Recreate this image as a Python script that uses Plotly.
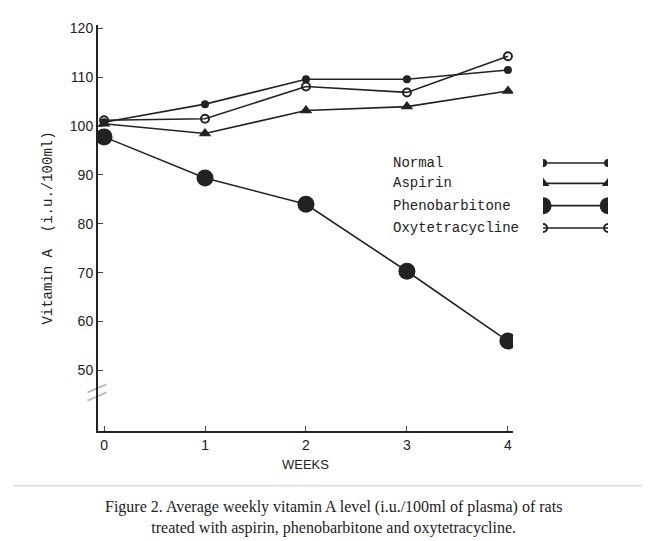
import plotly.graph_objects as go

weeks = [0, 1, 2, 3, 4]
normal = [100.8, 104.5, 109.6, 109.6, 111.5]
aspirin = [100.5, 98.5, 103.2, 104.0, 107.2]
phenobarbitone = [97.8, 89.4, 84.0, 70.3, 56.0]
oxytetracycline = [101.2, 101.5, 108.1, 106.9, 114.3]
y_ticks = [50, 60, 70, 80, 90, 100, 110, 120]
legend_names = ["Normal", "Aspirin", "Phenobarbitone", "Oxytetracycline"]

styles = {
    "Normal": dict(symbol="circle", size=8, color="#222"),
    "Aspirin": dict(symbol="triangle-up", size=11, color="#222"),
    "Phenobarbitone": dict(symbol="circle", size=17, color="#222"),
    "Oxytetracycline": dict(symbol="circle-open", size=8, color="#222", line=dict(width=2)),
}
series = {"Normal": normal, "Aspirin": aspirin, "Phenobarbitone": phenobarbitone,
          "Oxytetracycline": oxytetracycline}

fig = go.Figure()
for name, vals in series.items():
    fig.add_trace(go.Scatter(x=weeks, y=vals, mode="lines+markers", name=name,
                             line=dict(color="#222", width=1.6), marker=styles[name]))

# hand-drawn style legend on an overlay axis
legend_y = [0.66, 0.61, 0.555, 0.50]
for name, ly in zip(legend_names, legend_y):
    fig.add_trace(go.Scatter(x=[0.0, 1.0], y=[ly, ly], xaxis="x2", yaxis="y2", mode="lines+markers",
                             line=dict(color="#222", width=1.6), marker=styles[name], showlegend=False))
    fig.add_annotation(x=0.563, y=ly, xref="paper", yref="paper", text=name, showarrow=False,
                       xanchor="left", font=dict(family="Liberation Mono", size=14, color="#222"))

fig.update_layout(
    width=650, height=541, template="simple_white", showlegend=False,
    paper_bgcolor="white", plot_bgcolor="white",
    margin=dict(l=90, r=40, t=12, b=118),
    xaxis=dict(domain=[0, 0.798], range=[-0.06, 4.05], tickvals=weeks, ticks="inside", ticklen=5,
               showline=True, linecolor="#222", linewidth=2,
               tickfont=dict(family="Liberation Sans", size=14, color="#222"),
               title=dict(text="WEEKS", font=dict(family="Liberation Sans", size=13, color="#222"), standoff=8)),
    yaxis=dict(range=[37.6, 120.7], tickvals=y_ticks, ticks="inside", ticklen=5, showline=True,
               linecolor="#222", linewidth=2, tickfont=dict(family="Liberation Sans", size=14, color="#222"),
               title=dict(text="Vitamin A  (i.u./100ml)",
                          font=dict(family="Liberation Mono", size=14, color="#222"), standoff=14)),
    xaxis2=dict(domain=[0.856, 0.981], range=[0, 1], visible=False, anchor="y2"),
    yaxis2=dict(domain=[0, 1], range=[0, 1], visible=False, anchor="x2", overlaying="y"),
    shapes=[
        dict(type="line", xref="paper", yref="paper", x0=-0.02, x1=0.016, y0=0.075, y1=0.095,
             line=dict(color="#222", width=2)),
        dict(type="line", xref="paper", yref="paper", x0=-0.02, x1=0.016, y0=0.095, y1=0.115,
             line=dict(color="#222", width=2)),
        dict(type="line", xref="paper", yref="paper", x0=-0.163, x1=1.058, y0=-0.135, y1=-0.135,
             line=dict(color="#555", width=1)),
    ],
)
fig.add_annotation(x=0.452, y=-0.16, xref="paper", yref="paper", showarrow=False, yanchor="top",
                   text="Figure 2. Average weekly vitamin A level (i.u./100ml of plasma) of rats<br>"
                        "treated with aspirin, phenobarbitone and oxytetracycline.",
                   font=dict(family="Liberation Serif", size=16, color="#222"), align="center")

fig.write_html("out.html")
